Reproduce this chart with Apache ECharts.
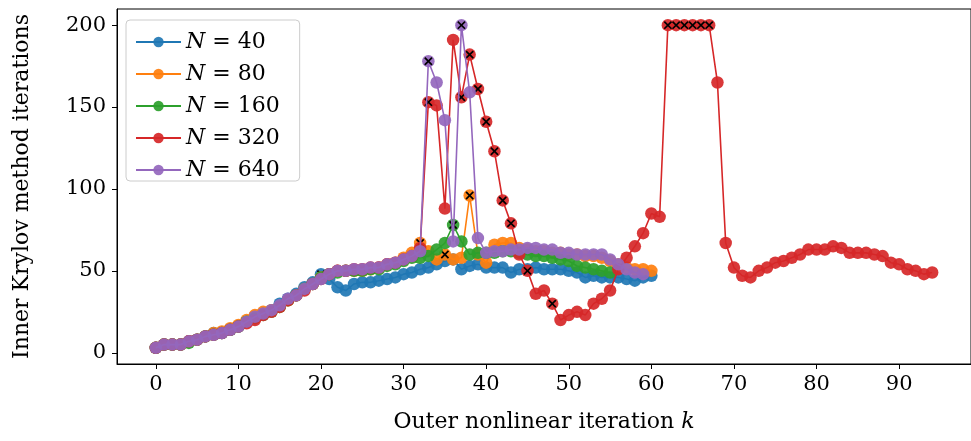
<!DOCTYPE html>
<html>
<head>
<meta charset="utf-8">
<script src="https://cdn.jsdelivr.net/npm/echarts@6/dist/echarts.min.js"></script>
<style>
html,body{margin:0;padding:0;background:#fff;}
#chart{width:971px;height:441px;}
</style>
</head>
<body>
<div id="chart"></div>
<script>
// ---- data (index = outer iteration k) ----
const seriesNames = ['40', '80', '160', '320', '640'];
const n40 = [3,5,5,5,7,8,10,12,12,14,16,19,22,24,26,30,33,36,40,43,48,45,40,38,42,43,43,44,45,46,48,49,51,52,54,56,57,51,53,54,52,52,52,49,51,51,52,51,51,51,50,49,46,47,46,46,46,45,44,46,47];
const n80 = [3,5,5,5,7,8,10,12,13,15,17,20,23,25,26,28,32,35,39,42,46,48,50,50,50,50,51,52,54,55,58,61,67,62,57,60,57,58,96,60,55,66,67,67,64,63,62,62,61,61,60,60,59,59,58,56,54,52,51,51,50];
const n160 = [3,5,5,5,6,8,10,11,12,14,16,19,21,23,25,28,32,35,39,42,46,48,49,50,50,50,51,51,53,54,56,58,58,59,63,67,78,68,60,61,61,61,62,62,61,60,59,59,58,57,56,53,52,51,50,49];
const n320 = [3,5,5,5,7,8,10,11,12,14,16,18,20,23,25,28,32,35,38,42,45,48,50,50,51,51,52,52,54,55,57,59,64,153,151,88,191,156,182,161,141,123,93,79,60,50,36,38,30,20,23,25,23,30,33,38,51,58,65,73,85,83,200,200,200,200,200,200,165,67,52,47,46,50,52,55,56,58,60,63,63,63,65,64,61,61,61,60,59,55,54,51,50,48,49];
const n640 = [3,5,5,5,7,8,10,11,12,14,16,19,22,24,26,29,33,35,39,42,45,48,50,50,51,51,52,52,54,55,57,59,62,178,165,142,68,200,159,70,61,62,62,63,63,64,64,63,63,61,61,60,60,60,60,57,54,51,49,48];
// iterations k flagged with a cross
const flag40 = [20];
const flag80 = [32,35,38];
const flag160 = [36];
const flag320 = [33,37,38,39,40,41,42,43,45,48,62,63,64,65,66,67];
const flag640 = [33,37];
const xTicks = [0,10,20,30,40,50,60,70,80,90];
const yTicks = [0,50,100,150,200];

const colors = ['#1f77b4','#ff7f0e','#2ca02c','#d62728','#9467bd'];
const allData = [n40,n80,n160,n320,n640];
const allFlags = [flag40,flag80,flag160,flag320,flag640];
const FONT = 'DejaVu Serif';
const CROSS = 3.6;

function renderCross(params, api) {
  const p = api.coord([api.value(0), api.value(1)]);
  const st = {stroke: '#000', lineWidth: 1.7, fill: null};
  return {
    type: 'group',
    children: [
      {type: 'line', z2: 200, shape: {x1: p[0]-CROSS, y1: p[1]-CROSS, x2: p[0]+CROSS, y2: p[1]+CROSS}, style: st},
      {type: 'line', z2: 200, shape: {x1: p[0]-CROSS, y1: p[1]+CROSS, x2: p[0]+CROSS, y2: p[1]-CROSS}, style: st}
    ]
  };
}

const series = [];
allData.forEach((arr, i) => {
  series.push({
    name: 'N=' + seriesNames[i],
    type: 'line',
    z: 2 + 2 * i,
    data: arr.map((v, k) => [k, v]),
    symbol: 'circle',
    symbolSize: 12.5,
    showAllSymbol: true,
    lineStyle: {color: colors[i], width: 1.6},
    itemStyle: {color: colors[i], opacity: 0.92},
    animation: false
  });
  series.push({
    name: 'flag' + seriesNames[i],
    type: 'custom',
    z: 3 + 2 * i,
    renderItem: renderCross,
    data: allFlags[i].map(k => [k, arr[k]]),
    animation: false
  });
});

const chart = echarts.init(document.getElementById('chart'), null, {renderer: 'canvas'});
chart.setOption({
  animation: false,
  backgroundColor: '#fff',
  grid: {left: 117, top: 9, right: -10, bottom: 77, show: true, borderColor: '#000', borderWidth: 1, backgroundColor: 'transparent'},
  legend: {
    data: seriesNames.map(s => 'N=' + s),
    orient: 'vertical',
    left: 126, top: 20,
    padding: [11, 20, 0, 9],
    itemWidth: 45, itemHeight: 13, itemGap: 10,
    borderColor: '#cccccc', borderWidth: 1, borderRadius: 4,
    backgroundColor: 'rgba(255,255,255,0.8)',
    z: 20,
    formatter: name => '{i|N} = ' + name.split('=')[1],
    textStyle: {fontFamily: FONT, fontSize: 22, color: '#000',
      rich: {i: {fontFamily: FONT, fontSize: 22, fontStyle: 'italic', color: '#000'}}}
  },
  xAxis: {
    type: 'value', min: -4.7, max: 98.7,
    splitLine: {show: false},
    axisLine: {show: true, onZero: false, lineStyle: {color: '#000', width: 1}},
    axisTick: {show: true, length: 5, lineStyle: {color: '#000'}, customValues: xTicks},
    axisLabel: {color: '#000', fontFamily: FONT, fontSize: 21, margin: 10, customValues: xTicks},
    name: 'Outer nonlinear iteration {i|k}',
    nameLocation: 'middle', nameGap: 47,
    nameTextStyle: {color: '#000', fontFamily: FONT, fontSize: 22,
      rich: {i: {fontFamily: FONT, fontSize: 22, fontStyle: 'italic', color: '#000'}}}
  },
  yAxis: {
    type: 'value', min: -6.85, max: 209.85,
    splitLine: {show: false},
    axisLine: {show: true, onZero: false, lineStyle: {color: '#000', width: 1}},
    axisTick: {show: true, length: 5, lineStyle: {color: '#000'}, customValues: yTicks},
    axisLabel: {color: '#000', fontFamily: FONT, fontSize: 21, margin: 11, customValues: yTicks},
    name: 'Inner Krylov method iterations',
    nameLocation: 'middle', nameGap: 84,
    nameTextStyle: {color: '#000', fontFamily: FONT, fontSize: 22}
  },
  series: series
});
</script>
</body>
</html>
